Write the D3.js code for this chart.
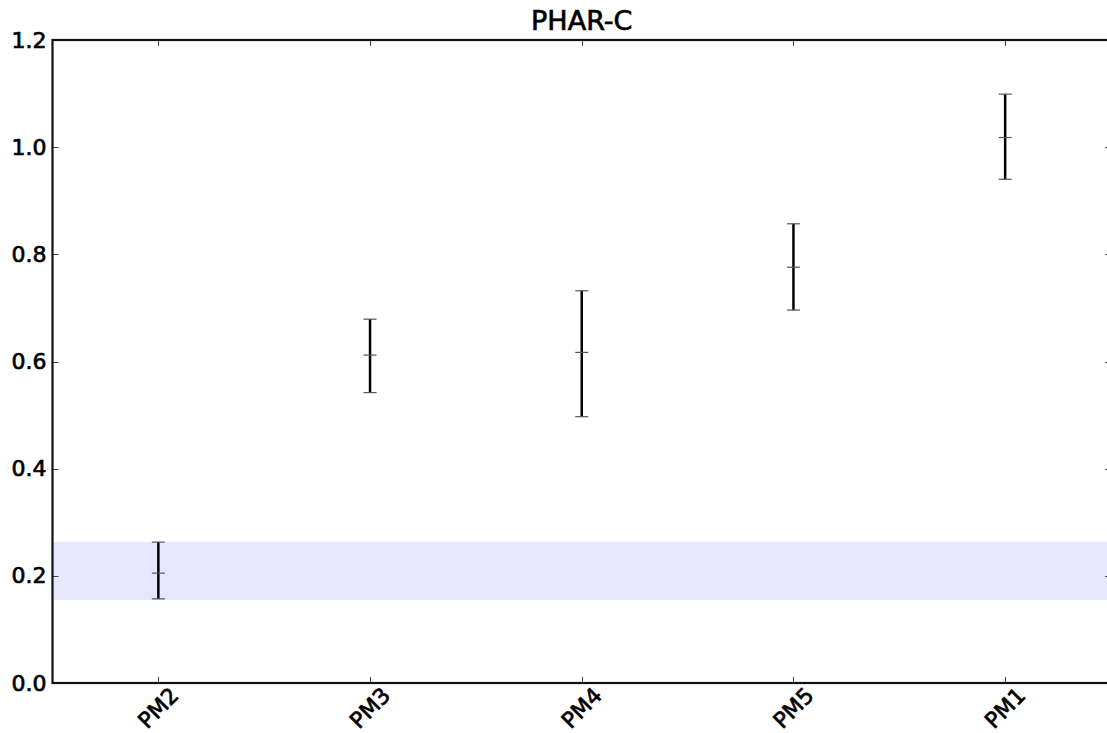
<!DOCTYPE html>
<html>
<head>
<meta charset="utf-8">
<script src="https://cdn.jsdelivr.net/npm/d3@7"></script>
<style>
  html, body { margin: 0; padding: 0; background: #fff; overflow: hidden; }
  svg { display: block; }
  text { font-family: "DejaVu Sans", sans-serif; fill: #000; stroke: #000; stroke-width: 0.7px; }
</style>
</head>
<body>
<svg id="chart" width="1107" height="733"></svg>
<script>
const title = "PHAR-C";
const categories = ["PM2", "PM3", "PM4", "PM5", "PM1"];
const means = [0.205, 0.612, 0.617, 0.776, 1.018];
const lowers = [0.157, 0.542, 0.497, 0.696, 0.940];
const uppers = [0.263, 0.679, 0.732, 0.857, 1.099];
const bandRange = [0.155, 0.263];
const yTicks = [0.0, 0.2, 0.4, 0.6, 0.8, 1.0, 1.2];
const yDomain = [0, 1.2];

const svg = d3.select("#chart");
const L = 52.5, R = 1111, T = 40, B = 683;

const x = d3.scaleBand().domain(categories).range([L, R]).paddingInner(0).paddingOuter(0);
const cx = c => x(c) + x.bandwidth() / 2;
const y = d3.scaleLinear().domain(yDomain).range([B, T]);

// shaded band
svg.append("rect")
  .attr("x", L).attr("width", R - L)
  .attr("y", y(bandRange[1])).attr("height", y(bandRange[0]) - y(bandRange[1]))
  .attr("fill", "#e6e6ff");

// ticks (inward on all four sides)
const tickLen = 6;
const tg = svg.append("g").attr("stroke", "#444").attr("stroke-width", 1);
categories.forEach(c => {
  const px = Math.round(cx(c)) + 0.5;
  tg.append("line").attr("x1", px).attr("x2", px).attr("y1", B).attr("y2", B - tickLen);
  tg.append("line").attr("x1", px).attr("x2", px).attr("y1", T).attr("y2", T + tickLen);
});
yTicks.forEach(v => {
  const py = Math.round(y(v)) + 0.5;
  tg.append("line").attr("x1", L).attr("x2", L + tickLen).attr("y1", py).attr("y2", py);
  tg.append("line").attr("x1", R).attr("x2", R - tickLen).attr("y1", py).attr("y2", py);
});

// error bars
const capW = 6.5;
const eb = svg.append("g");
categories.forEach((c, i) => {
  const px = cx(c);
  eb.append("line").attr("x1", px).attr("x2", px)
    .attr("y1", y(lowers[i])).attr("y2", y(uppers[i]))
    .attr("stroke", "#000").attr("stroke-width", 2.5);
  [lowers[i], uppers[i], means[i]].forEach(v => {
    eb.append("line").attr("x1", px - capW).attr("x2", px + capW)
      .attr("y1", y(v)).attr("y2", y(v))
      .attr("stroke", "#555").attr("stroke-width", 1.2);
  });
});

// spines
svg.append("rect")
  .attr("x", L).attr("y", T).attr("width", R - L).attr("height", B - T)
  .attr("fill", "none").attr("stroke", "#111").attr("stroke-width", 2.2);

// y tick labels
const yAxis = d3.axisLeft(y).tickValues(yTicks).tickFormat(d3.format(".1f")).tickSize(0).tickPadding(6);
const ya = svg.append("g").attr("transform", `translate(${L},0)`).call(yAxis);
ya.select(".domain").remove();
ya.selectAll("text").attr("font-size", 22).attr("font-family", "DejaVu Sans, sans-serif").attr("fill", "#000");

// x tick labels rotated 45deg
svg.append("g").selectAll("text").data(categories).join("text")
  .attr("transform", c => `translate(${cx(c)},${708}) rotate(-45)`)
  .attr("text-anchor", "middle").attr("dominant-baseline", "central")
  .attr("font-size", 22)
  .text(c => c);

// title
svg.append("text")
  .attr("x", (L + R) / 2).attr("y", 30)
  .attr("text-anchor", "middle")
  .attr("font-size", 27)
  .text(title);
</script>
</body>
</html>
